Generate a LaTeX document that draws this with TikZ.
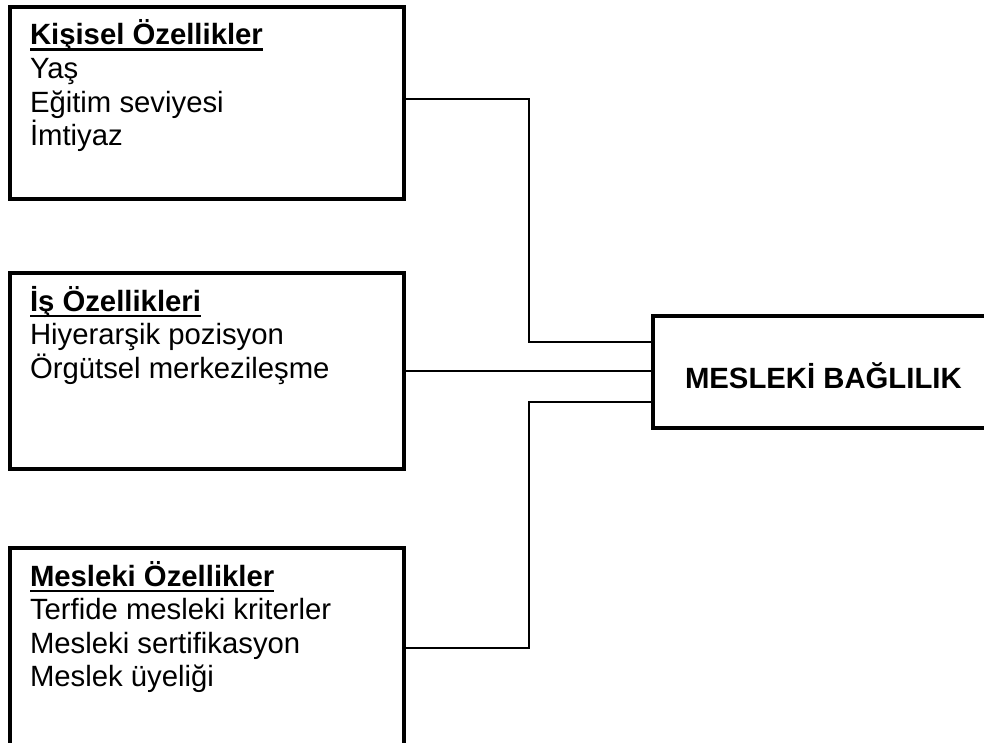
\documentclass[tikz,border=0pt]{standalone}
\usepackage{fontspec}
\setmainfont{Liberation Sans}

% first-line-baseline stack of left-aligned lines
\newcommand\linestack[1]{\vtop{\baselineskip=33.6pt\lineskiplimit=-100pt
  \halign{##\hfil\cr#1\crcr}}}
% bold, underlined heading
\newcommand\headline[1]{\setbox0\hbox{\bfseries #1}%
  \rlap{\rule[-6.3pt]{\wd0}{2.8pt}}\box0}

\tikzset{
  box/.style={draw=black, line width=3.4pt, rectangle, outer sep=0pt,
              inner sep=0pt, anchor=north west},
  txt/.style={inner sep=0pt, outer sep=0pt, anchor=base west,
              font=\fontsize{29.3pt}{33.6pt}\selectfont},
  conn/.style={draw=black, line width=2.8pt, line cap=rect}
}

\begin{document}
\begin{tikzpicture}[x=1pt, y=-1pt]
\useasboundingbox (0,0) rectangle (984,743);
\clip (0,0) rectangle (984,743);

% left boxes
\node[box, minimum width=394pt, minimum height=192pt] (b1) at (10,7) {};
\node[box, minimum width=394pt, minimum height=196pt] (b2) at (10,273) {};
\node[box, minimum width=394pt, minimum height=215pt] (b3) at (10,548) {};

% outcome box on the right
\node[box, minimum width=350pt, minimum height=112pt] (mb) at (653,316) {};

% box contents
\node[txt] (t1) at (30,45) {\linestack{\headline{Kişisel Özellikler}\cr
  Yaş\cr Eğitim seviyesi\cr İmtiyaz}};
\node[txt] (t2) at (30,311) {\linestack{\headline{İş Özellikleri}\cr
  Hiyerarşik pozisyon\cr Örgütsel merkezileşme}};
\node[txt] (t3) at (30,586) {\linestack{\headline{Mesleki Özellikler}\cr
  Terfide mesleki kriterler\cr Mesleki sertifikasyon\cr Meslek üyeliği}};
\node[txt] (tm) at (685,388) {\bfseries MESLEKİ BAĞLILIK};

% elbow points of the connectors
\coordinate (a1) at (529,99);
\coordinate (a2) at (529,342);
\coordinate (mid) at (529,371);
\coordinate (c2) at (529,402);
\coordinate (c1) at (529,648);

% connectors
\draw[conn] (b1.east |- a1) -- (a1) -- (a2) -- (mb.west |- a2);
\draw[conn] (b2.east |- mid) -- (mb.west |- mid);
\draw[conn] (b3.east |- c1) -- (c1) -- (c2) -- (mb.west |- c2);
\end{tikzpicture}
\end{document}
